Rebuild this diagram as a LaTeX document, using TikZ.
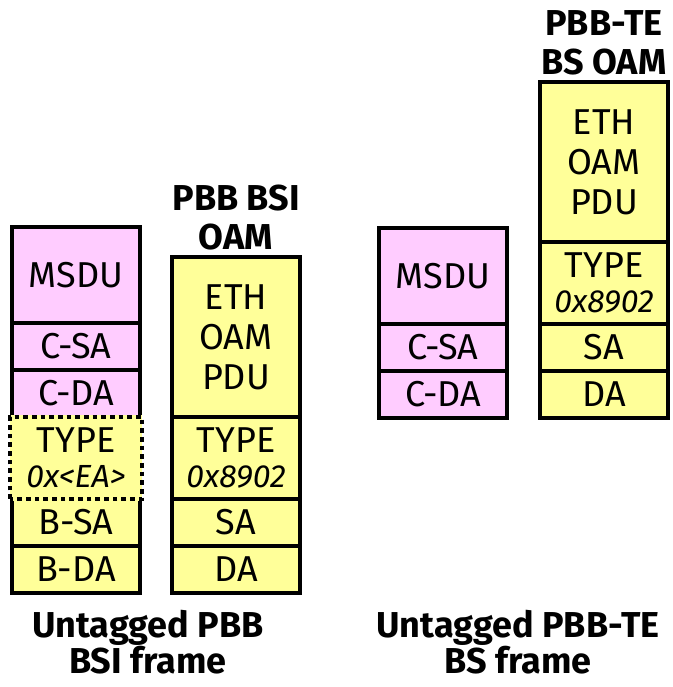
\documentclass[tikz,border=0pt]{standalone}
\usepackage{fontspec}
\setmainfont{Fira Sans}
\usetikzlibrary{positioning}
\definecolor{fldpink}{RGB}{255,204,255}
\definecolor{fldyellow}{RGB}{255,255,153}

\begin{document}
\begin{tikzpicture}[x=0.75pt, y=0.75pt,
    fld/.style={draw, line width=2.6pt, minimum width=96pt, minimum height=35.25pt,
        inner sep=0pt, outer sep=0pt, align=center, font=\fontsize{27}{30}\selectfont},
    pk/.style={fld, fill=fldpink},
    yl/.style={fld, fill=fldyellow},
    typefld/.style={yl, minimum height=61.5pt},
    pdufld/.style={yl, minimum height=120pt},
    msdufld/.style={pk, minimum height=72pt},
    ttl/.style={inner sep=0pt, align=center, font=\bfseries\fontsize{27}{29}\selectfont},
    frmcap/.style={inner sep=0pt, align=center, font=\bfseries\fontsize{27}{24}\selectfont}]
    \useasboundingbox (0,0) rectangle (673,687);
    \newcommand{\typetxt}[1]{TYPE\\[-4pt]{\itshape\fontsize{24}{26}\selectfont #1}}

    % untagged PBB BSI frame
    \node[yl, anchor=south west] (bda) at (12,94) {B-DA};
    \node[yl, above=0pt of bda] (bsa) {B-SA};
    \node[typefld, above=0pt of bsa] (etype) {\typetxt{0x<EA>}};
    \node[pk, above=0pt of etype] (cda) {C-DA};
    \node[pk, above=0pt of cda] (csa) {C-SA};
    \node[msdufld, above=0pt of csa] (msdu) {MSDU};
    \draw[fldyellow, line width=2.6pt] (etype.south west) rectangle (etype.north east);
    \draw[line width=3.5pt, dash pattern=on 3.5pt off 3pt]
        ([xshift=-1.5pt]etype.south west) rectangle ([xshift=1.5pt]etype.north east);

    % PBB BSI OAM
    \node[yl, anchor=south west] (da) at (172,94) {DA};
    \node[yl, above=0pt of da] (sa) {SA};
    \node[typefld, above=0pt of sa] (otype) {\typetxt{0x8902}};
    \node[pdufld, above=0pt of otype] (pdu) {ETH\\OAM\\PDU};
    \node[ttl, above=5pt of pdu] (bsittl) {PBB BSI\\OAM};

    % untagged PBB-TE BS frame
    \node[pk, anchor=south west] (tcda) at (379,269) {C-DA};
    \node[pk, above=0pt of tcda] (tcsa) {C-SA};
    \node[msdufld, above=0pt of tcsa] (tmsdu) {MSDU};

    % PBB-TE BS OAM
    \node[yl, anchor=south west] (tda) at (540,269) {DA};
    \node[yl, above=0pt of tda] (tsa) {SA};
    \node[typefld, above=0pt of tsa] (ttype) {\typetxt{0x8902}};
    \node[pdufld, above=0pt of ttype] (tpdu) {ETH\\OAM\\PDU};
    \node[ttl, above=5pt of tpdu] (tettl) {PBB-TE\\BS OAM};

    \node[frmcap] (bsicap) at (148,45) {Untagged PBB\\BSI frame};
    \node[frmcap] (tecap) at (518,45) {Untagged PBB-TE\\BS frame};
\end{tikzpicture}
\end{document}
